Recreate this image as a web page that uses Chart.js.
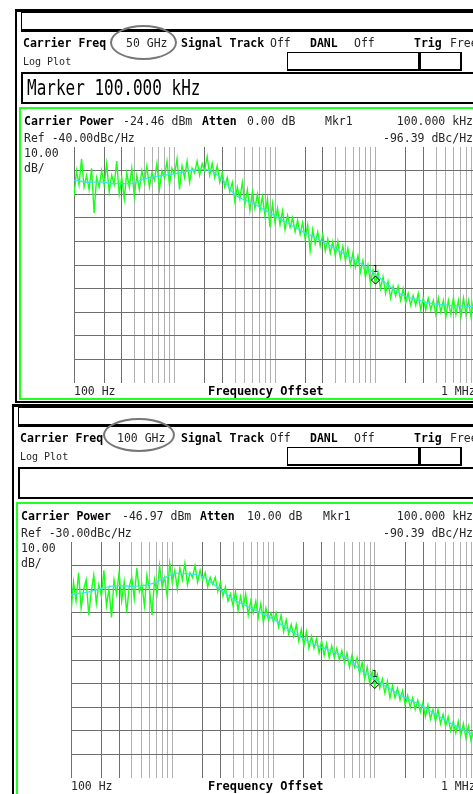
<!DOCTYPE html>
<html>
<head>
<meta charset="utf-8">
<script src="https://cdn.jsdelivr.net/npm/chart.js@4/dist/chart.umd.min.js"></script>
<style>
html, body { margin: 0; padding: 0; background: #fff; }
body { width: 473px; height: 794px; overflow: hidden; position: relative; font-family: "DejaVu Sans Mono", monospace; }
.a { position: absolute; white-space: nowrap; }
.t { font-size: 11.5px; line-height: 14px; height: 14px; color: #262626; }
.b { font-weight: bold; color: #000; }
.s { font-size: 10px; }
.big { font-size: 16px; line-height: 20px; height: 20px; color: #000; transform: scaleY(1.3); transform-origin: left center; }
.box { position: absolute; box-sizing: border-box; }
canvas { position: absolute; }
</style>
</head>
<body>
<canvas id="p50" width="402" height="236" style="left:74px;top:147px;width:402px;height:236px"></canvas>
<canvas id="p100" width="405" height="236" style="left:71px;top:542px;width:405px;height:236px"></canvas>
<script>
// sweep: 100 Hz .. 1 MHz, 40 points per decade
var sweepStart = 100;
var pointsPerDecade = 40;

// log grid lines (Hz)
var gridFreqs = [100,200,300,400,500,600,700,800,900,
  1000,2000,3000,4000,5000,6000,7000,8000,9000,
  10000,20000,30000,40000,50000,60000,70000,80000,90000,
  100000,200000,300000,400000,500000,600000,700000,800000,900000,1000000];
var darkGrid = [100,200,300,2000,3000,20000,30000,200000,300000];

// 50 GHz carrier
var trace50 = [
  -61,-50,-56,-45,-57,-52,-58,-49,
  -68,-53,-57,-50,-56,-47,-59,-52,
  -56,-46,-60,-53,-62,-51,-57,-49,
  -61,-52,-58,-50,-55,-48,-57,-51,
  -54,-47,-58,-50,-53,-46,-56,-49,
  -52,-45,-58,-48,-53,-46,-55,-49,
  -51,-46,-52,-47,-50,-44,-52,-47,
  -53,-48,-55,-51,-57,-53,-59,-55,
  -63,-57,-62,-55,-64,-58,-67,-59,
  -66,-60,-67,-61,-69,-62,-74,-64,
  -72,-66,-73,-67,-75,-69,-74,-70,
  -76,-71,-77,-72,-79,-73,-84,-75,
  -81,-76,-82,-77,-84,-79,-85,-80,
  -86,-80,-87,-82,-88,-83,-90,-85,
  -91,-86,-93,-88,-95,-90,-98,-92,
  -98,-93,-100,-95,-102,-97,-104,-99,
  -103,-99,-105,-100,-106,-102,-107,-103,
  -107,-102,-109,-104,-109,-104,-109,-105,
  -111,-104,-110,-105,-112,-105,-111,-104,
  -111,-105,-112,-104,-111,-105,-112,-105,
  -110];
var avgFreq50 = [100,144,182,246,362,524,1040,1400,1900,2400,3270,3870,6100,10500,17900,28400,52000,76700,100000,178000,261000,383000,607000,1000000];
var avg50 = [-54,-55,-54.8,-55.5,-55.5,-53.3,-51.2,-50.1,-49.5,-50.5,-55.5,-59.7,-64,-69.7,-75.3,-79.6,-86,-90.2,-94,-102.3,-104.8,-106.5,-107.2,-107.7];

// 100 GHz carrier
var trace100 = [
  -60,-47,-55,-43,-58,-50,-46,-61,
  -51,-44,-56,-48,-53,-42,-57,-50,
  -62,-46,-52,-43,-55,-47,-60,-49,
  -45,-54,-41,-51,-48,-57,-44,-50,
  -61,-46,-52,-40,-49,-45,-53,-39,
  -47,-42,-50,-41,-46,-39,-48,-43,
  -45,-40,-47,-42,-46,-43,-49,-45,
  -48,-45,-51,-47,-53,-49,-55,-52,
  -57,-51,-59,-53,-58,-52,-61,-55,
  -60,-55,-62,-56,-64,-58,-63,-60,
  -64,-60,-66,-61,-68,-63,-69,-65,
  -70,-65,-72,-67,-74,-68,-75,-70,
  -75,-71,-77,-72,-78,-73,-79,-74,
  -79,-75,-80,-76,-81,-77,-83,-78,
  -83,-79,-86,-81,-88,-83,-90,-85,
  -91,-86,-92,-88,-94,-89,-96,-91,
  -96,-92,-97,-93,-99,-95,-100,-96,
  -101,-97,-102,-98,-104,-99,-105,-101,
  -106,-101,-107,-103,-108,-104,-110,-106,
  -111,-106,-112,-107,-113,-108,-114,-110,
  -113];
var avgFreq100 = [100,155,285,417,660,900,1120,1410,1900,2600,4100,6500,10200,15100,24000,38000,55600,75600,104000,130000,190000,280000,410000,600000,880000,1000000];
var avg100 = [-52.4,-51,-48.5,-48.8,-47.4,-44.6,-43.2,-43.5,-44.3,-48.1,-54.5,-58.7,-63,-67.9,-72.9,-76.4,-79.9,-84.9,-88.4,-91.3,-95.5,-99,-103.3,-107.5,-111,-111.8];

var markerFreq = 100000;
var marker50 = -96.39;
var marker100 = -90.39;

function el(cls, css, text) {
  var d = document.createElement('div');
  d.className = cls;
  d.style.cssText = css;
  if (text) d.textContent = text;
  document.body.appendChild(d);
  return d;
}
function txt(x, cy, s, cls) {
  return el('a t ' + (cls || ''), 'left:' + x + 'px;top:' + (cy - 7) + 'px', s);
}
function txtR(x, cy, s, cls) {
  return el('a t ' + (cls || ''), 'right:' + (473 - x) + 'px;top:' + (cy - 7) + 'px', s);
}

// instrument screen frame, header and readouts
function panel(y, dx, hdr) {
  el('box', 'left:' + (15 + dx) + 'px;top:' + (y + 9) + 'px;width:500px;height:' + hdr.frameH + 'px;border-top:3px solid #000;border-left:2px solid #000;border-bottom:' + (hdr.last ? 0 : 2) + 'px solid #000');
  el('box', 'left:' + (21 + dx) + 'px;top:' + (y + 12) + 'px;width:480px;height:20px;border:1px solid #000;border-bottom:3px solid #000');
  txt(23 + dx, y + 42.5, 'Carrier Freq', 'b');
  el('box', 'left:' + hdr.ell[0] + 'px;top:' + (y + hdr.ell[1]) + 'px;width:' + hdr.ell[2] + 'px;height:' + hdr.ell[3] + 'px;border:2px solid #777;border-radius:50%');
  txt(hdr.freqX, y + 42.5, hdr.freq);
  txt(181, y + 42.5, 'Signal Track', 'b');
  txt(270, y + 42.5, 'Off');
  txt(310, y + 42.5, 'DANL', 'b');
  txt(354, y + 42.5, 'Off');
  txt(414, y + 42.5, 'Trig', 'b');
  txt(450, y + 42.5, 'Free');
  txt(23 + dx, y + 62, 'Log Plot', 's');
  el('box', 'left:287px;top:' + (y + 52) + 'px;width:134px;height:19px;border:1px solid #000;border-right:3px solid #000;border-bottom:2px solid #000');
  el('box', 'left:421px;top:' + (y + 52) + 'px;width:41px;height:19px;border-top:1px solid #000;border-right:2px solid #000;border-bottom:2px solid #000');
  el('box', 'left:' + (21 + dx) + 'px;top:' + (y + 72) + 'px;width:480px;height:32px;border:2px solid #000');
  if (hdr.marker) el('a big', 'left:' + (27 + dx) + 'px;top:' + (y + 78) + 'px', hdr.marker);
  el('box', 'left:' + (19 + dx) + 'px;top:' + (y + 107) + 'px;width:480px;height:' + hdr.greenH + 'px;border:2px solid #22ff22');
  txt(24 + dx, y + 121, 'Carrier Power', 'b');
  txt(hdr.pwrX, y + 121, hdr.power);
  txt(hdr.attX, y + 121, 'Atten', 'b');
  txt(247, y + 121, hdr.atten);
  txt(hdr.mkrX, y + 121, 'Mkr1');
  txtR(473, y + 121, '100.000 kHz');
  txt(24 + dx, y + 137.5, hdr.ref);
  txtR(473, y + 137.5, hdr.mkrVal);
  txt(24 + dx, y + 153, '10.00');
  txt(24 + dx, y + 168, 'dB/');
  txt(74 + dx, y + 390.5, '100 Hz');
  el('a t b', 'left:208px;top:' + (y + 383.5) + 'px;font-size:12px', 'Frequency Offset');
  txt(441, y + 390.5, '1 MHz');
}

panel(0, 0, { frameH: 394, greenH: 293, ell: [110, 25, 67, 35], freq: '50 GHz', freqX: 126,
  marker: 'Marker 100.000 kHz', power: '-24.46 dBm', pwrX: 123, attX: 202, atten: '0.00 dB', mkrX: 325,
  ref: 'Ref -40.00dBc/Hz', mkrVal: '-96.39 dBc/Hz' });
panel(395, -3, { frameH: 420, greenH: 300, last: true, ell: [103, 23, 72, 34], freq: '100 GHz', freqX: 117,
  marker: '', power: '-46.97 dBm', pwrX: 122, attX: 200, atten: '10.00 dB', mkrX: 323,
  ref: 'Ref -30.00dBc/Hz', mkrVal: '-90.39 dBc/Hz' });

var markerLabel = {
  id: 'markerLabel',
  afterDatasetsDraw: function(chart) {
    var p = chart.getDatasetMeta(0).data[0];
    var c = chart.ctx;
    c.save();
    c.font = '9px "DejaVu Sans Mono"';
    c.fillStyle = '#000';
    c.textAlign = 'center';
    c.fillText('1', p.x, p.y - 8);
    c.restore();
  }
};

function plot(id, trace, avgF, avgV, mkr, ref) {
  var sweep = trace.map(function(v, i) {
    return { x: sweepStart * Math.pow(10, i / pointsPerDecade), y: v };
  });
  var avg = avgF.map(function(f, i) { return { x: f, y: avgV[i] }; });
  new Chart(document.getElementById(id), {
    type: 'line',
    data: {
      datasets: [
        { data: [{ x: markerFreq, y: mkr }], showLine: false, pointStyle: 'rectRot', pointRadius: 4,
          borderColor: '#000', backgroundColor: 'rgba(0,0,0,0)', borderWidth: 1 },
        { data: avg, borderColor: '#3ee4ec', borderWidth: 1.3, pointRadius: 0, cubicInterpolationMode: 'monotone' },
        { data: sweep, borderColor: '#18ff18', borderWidth: 1.4, pointRadius: 0, tension: 0 }
      ]
    },
    options: {
      responsive: false,
      animation: false,
      layout: { padding: 0, autoPadding: false },
      plugins: { legend: { display: false }, tooltip: { enabled: false } },
      scales: {
        x: {
          type: 'logarithmic', min: 100, max: 1000000,
          afterBuildTicks: function(s) { s.ticks = gridFreqs.map(function(v) { return { value: v }; }); },
          ticks: { display: false },
          grid: { drawTicks: false, lineWidth: 1,
            color: function(c) { return darkGrid.indexOf(c.tick.value) >= 0 ? '#6e6e6e' : '#b0b0b0'; } },
          border: { display: false }
        },
        y: {
          min: ref - 100, max: ref,
          ticks: { display: false, stepSize: 10 },
          grid: { drawTicks: false, lineWidth: 1,
            color: function(c) { return c.tick.value === ref ? 'rgba(0,0,0,0)' : '#6e6e6e'; } },
          border: { display: false }
        }
      }
    },
    plugins: [markerLabel]
  });
}

plot('p50', trace50, avgFreq50, avg50, marker50, -40);
plot('p100', trace100, avgFreq100, avg100, marker100, -30);
</script>
</body>
</html>
